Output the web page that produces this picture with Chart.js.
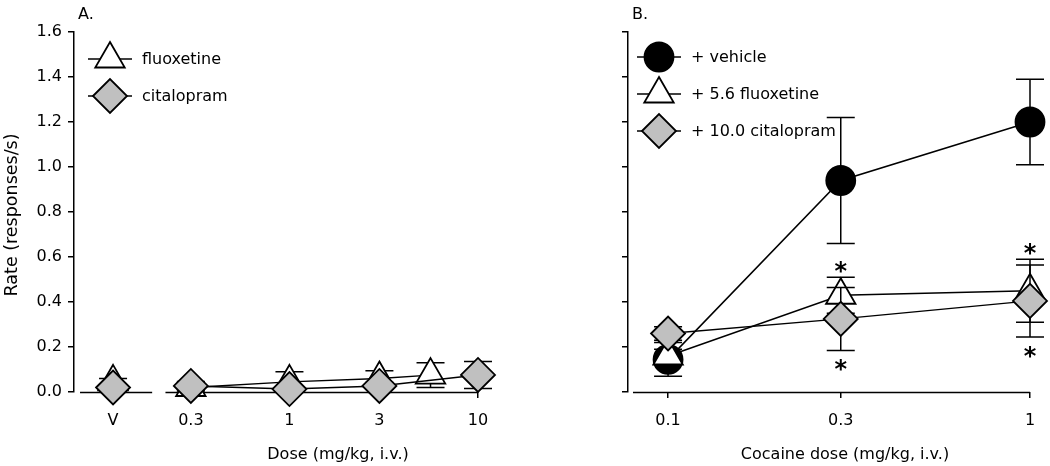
<!DOCTYPE html>
<html>
<head>
<meta charset="utf-8">
<script src="https://cdn.jsdelivr.net/npm/chart.js@4/dist/chart.umd.min.js"></script>
<style>
  body { margin: 0; background: #fff; }
  #wrap { position: relative; width: 1050px; height: 466px; }
  #chartA { position: absolute; left: 0; top: 0; }
  #chartB { position: absolute; left: 540px; top: 0; }
</style>
</head>
<body>
<div id="wrap">
  <canvas id="chartA" width="540" height="466"></canvas>
  <canvas id="chartB" width="510" height="466"></canvas>
</div>
<script>
// ---- panel A: drug alone ----
const dosesFluoxA = ['V', 0.3, 1, 3, 5.6];
const fluoxA      = [0.045, 0.02, 0.045, 0.06, 0.075];
const fluoxA_sem  = [0.015, 0.02, 0.045, 0.035, 0.055];
const dosesCitalA = ['V', 0.3, 1, 3, 10];
const citalA      = [0.02, 0.027, 0.013, 0.027, 0.076];
const citalA_sem  = [0.01, 0.02, 0.01, 0.015, 0.06];
const tickValsA   = ['V', 0.3, 1, 3, 10];
const tickLabelsA = ['V', '0.3', '1', '3', '10'];

// ---- panel B: cocaine + pretreatment ----
const cocaineDoses = [0.1, 0.3, 1];
const vehicleB     = [0.145, 0.94, 1.2];
const vehicleB_sem = [0.075, 0.28, 0.19];
const fluoxB       = [0.16, 0.43, 0.45];
const fluoxB_sem   = [0.03, 0.08, 0.14];
const citalB       = [0.26, 0.325, 0.405];
const citalB_sem   = [0.03, 0.14, 0.16];
const fluoxB_sig   = [false, true, true];   // * above
const citalB_sig   = [false, true, true];   // * below
const tickLabelsB  = ['0.1', '0.3', '1'];

const yTicks = [0, 0.2, 0.4, 0.6, 0.8, 1.0, 1.2, 1.4, 1.6];

const V_POS = 0.116;  // where the vehicle point sits on the broken axis
const FONT = '"DejaVu Sans", "Liberation Sans", sans-serif';
const CAP = 14;
const LW = 1.5;

Chart.defaults.font.family = FONT;
Chart.defaults.font.size = 16;
Chart.defaults.color = '#000';

function xv(d) { return d === 'V' ? V_POS : d; }
function pts(xs, ys) { return xs.map((d, i) => ({ x: xv(d), y: ys[i] })); }

const styleFluox = { pointStyle: 'triangle', pointRadius: 17, pointBackgroundColor: '#fff' };
const styleCital = { pointStyle: 'rectRot', pointRadius: 17, pointBackgroundColor: '#c0c0c0' };
const styleVeh   = { pointStyle: 'circle', pointRadius: 14.5, pointBackgroundColor: '#000' };

function series(label, data, errs, style, order, extra) {
  return Object.assign({
    label: label,
    data: data,
    errors: errs,
    order: order,
    borderColor: '#000',
    borderWidth: LW,
    pointBorderColor: '#000',
    pointBorderWidth: 1.8,
    pointHoverRadius: style.pointRadius,
    clip: false,
    fill: false
  }, style, extra || {});
}

function drawMarker(ctx, st, x, y) {
  ctx.fillStyle = st.pointBackgroundColor;
  ctx.strokeStyle = '#000';
  ctx.lineWidth = 1.8;
  Chart.helpers.drawPoint(ctx, { pointStyle: st.pointStyle, radius: st.pointRadius, rotation: 0, borderWidth: 1.8 }, x, y);
}

function makeDecor(cfg) {
  return {
    id: 'decor',
    beforeDatasetsDraw(chart) {
      const ctx = chart.ctx, xs = chart.scales.x, top = chart.chartArea.bottom;
      ctx.save();
      ctx.strokeStyle = '#000';
      ctx.lineWidth = LW;
      cfg.axis.forEach(seg => {
        ctx.beginPath();
        ctx.moveTo(xs.getPixelForValue(seg[0]), top + 0.5);
        ctx.lineTo(xs.getPixelForValue(seg[1]), top + 0.5);
        ctx.stroke();
      });
      ctx.restore();
    },
    beforeDatasetDraw(chart, args) {
      const ds = chart.data.datasets[args.index];
      const ys = chart.scales.y, ctx = chart.ctx;
      ctx.save();
      ctx.strokeStyle = '#000';
      ctx.lineWidth = LW;
      args.meta.data.forEach((p, i) => {
        const v = ds.data[i].y, e = ds.errors[i];
        const y1 = ys.getPixelForValue(v + e), y0 = ys.getPixelForValue(v - e);
        ctx.beginPath();
        ctx.moveTo(p.x, y0); ctx.lineTo(p.x, y1);
        ctx.moveTo(p.x - CAP, y1); ctx.lineTo(p.x + CAP, y1);
        ctx.moveTo(p.x - CAP, y0); ctx.lineTo(p.x + CAP, y0);
        ctx.stroke();
      });
      ctx.restore();
    },
    afterDatasetsDraw(chart) {
      const ctx = chart.ctx, ys = chart.scales.y;
      ctx.save();
      // significance stars
      ctx.font = 'bold 24px ' + FONT;
      ctx.textAlign = 'center';
      ctx.textBaseline = 'alphabetic';
      ctx.fillStyle = '#000';
      chart.data.datasets.forEach((ds, di) => {
        if (!ds.sig) return;
        const meta = chart.getDatasetMeta(di);
        ds.sig.forEach((s, i) => {
          if (!s) return;
          const p = meta.data[i];
          let yc;
          if (ds.sigSide === 'above') {
            yc = ys.getPixelForValue(ds.data[i].y + ds.errors[i]) - 11;
          } else {
            yc = ys.getPixelForValue(ds.data[i].y - ds.errors[i]) + 14;
          }
          ctx.fillText('*', p.x, yc + 13);
        });
      });
      // legend
      ctx.font = '16px ' + FONT;
      ctx.textAlign = 'left';
      ctx.textBaseline = 'middle';
      cfg.legend.forEach((item, k) => {
        const y = cfg.legendY + k * 37;
        ctx.strokeStyle = '#000';
        ctx.lineWidth = LW;
        ctx.beginPath();
        ctx.moveTo(cfg.legendX - 22, y); ctx.lineTo(cfg.legendX + 22, y);
        ctx.stroke();
        drawMarker(ctx, item.style, cfg.legendX, y);
        ctx.fillStyle = '#000';
        ctx.fillText(item.label, cfg.legendX + 32, y + 1);
      });
      // panel letter and titles
      ctx.fillText(cfg.panel, cfg.panelX, 15);
      ctx.textAlign = 'center';
      ctx.fillText(cfg.xTitle, cfg.xTitleX, 455);
      if (cfg.yTitle) {
        ctx.font = '17.5px ' + FONT;
        ctx.translate(12, 215);
        ctx.rotate(-Math.PI / 2);
        ctx.fillText(cfg.yTitle, 0, 0);
      }
      ctx.restore();
    }
  };
}

function yScale(width, showLabels) {
  return {
    type: 'linear',
    min: 0, max: 1.6,
    afterBuildTicks: s => { s.ticks = yTicks.map(v => ({ value: v })); },
    afterFit: s => { s.width = width; },
    border: { display: true, color: '#000', width: LW },
    grid: { drawOnChartArea: false, drawTicks: true, tickLength: 6, color: '#000', lineWidth: LW },
    ticks: { display: showLabels, padding: 6, callback: v => v.toFixed(1) }
  };
}

function xScale(min, max, vals, labels) {
  return {
    type: 'logarithmic',
    min: min, max: max,
    afterBuildTicks: s => { s.ticks = vals.map(v => ({ value: v })); },
    afterFit: s => { s.height = 74; },
    border: { display: false },
    grid: { drawOnChartArea: false, drawTicks: true, tickLength: 6, color: '#000', lineWidth: LW },
    ticks: { autoSkip: false, maxRotation: 0, padding: 13, callback: (v, i) => labels[i] }
  };
}

const common = {
  responsive: false,
  devicePixelRatio: 1,
  animation: false,
  events: [],
  plugins: { legend: { display: false }, tooltip: { enabled: false } }
};

const hideBreak = { segment: { borderColor: c => c.p0DataIndex === 0 ? 'rgba(0,0,0,0)' : '#000' } };

new Chart(document.getElementById('chartA'), {
  type: 'line',
  data: {
    datasets: [
      series('fluoxetine', pts(dosesFluoxA, fluoxA), fluoxA_sem, styleFluox, 2, hideBreak),
      series('citalopram', pts(dosesCitalA, citalA), citalA_sem, styleCital, 1, hideBreak)
    ]
  },
  options: Object.assign({}, common, {
    layout: { padding: { left: 0, top: 32, right: 62, bottom: 0 } },
    scales: {
      x: xScale(0.072, 10, tickValsA.map(xv), tickLabelsA),
      y: yScale(74, true)
    }
  }),
  plugins: [makeDecor({
    axis: [[0.0775, 0.187], [0.22, 10]],
    legend: [{ label: 'fluoxetine', style: styleFluox }, { label: 'citalopram', style: styleCital }],
    legendX: 110, legendY: 59,
    panel: 'A.', panelX: 78,
    xTitle: 'Dose (mg/kg, i.v.)', xTitleX: 338,
    yTitle: 'Rate (responses/s)'
  })]
});

new Chart(document.getElementById('chartB'), {
  type: 'line',
  data: {
    datasets: [
      series('+ vehicle', pts(cocaineDoses, vehicleB), vehicleB_sem, styleVeh, 3),
      series('+ 5.6 fluoxetine', pts(cocaineDoses, fluoxB), fluoxB_sem, styleFluox, 2,
        { sig: fluoxB_sig, sigSide: 'above' }),
      series('+ 10.0 citalopram', pts(cocaineDoses, citalB), citalB_sem, styleCital, 1,
        { sig: citalB_sig, sigSide: 'below' })
    ]
  },
  options: Object.assign({}, common, {
    layout: { padding: { left: 0, top: 32, right: 20, bottom: 0 } },
    scales: {
      x: xScale(0.0775, 1, cocaineDoses, tickLabelsB),
      y: yScale(88, false)
    }
  }),
  plugins: [makeDecor({
    axis: [[0.08, 1]],
    legend: [
      { label: '+ vehicle', style: styleVeh },
      { label: '+ 5.6 fluoxetine', style: styleFluox },
      { label: '+ 10.0 citalopram', style: styleCital }
    ],
    legendX: 119, legendY: 57,
    panel: 'B.', panelX: 92,
    xTitle: 'Cocaine dose (mg/kg, i.v.)', xTitleX: 305
  })]
});
</script>
</body>
</html>
